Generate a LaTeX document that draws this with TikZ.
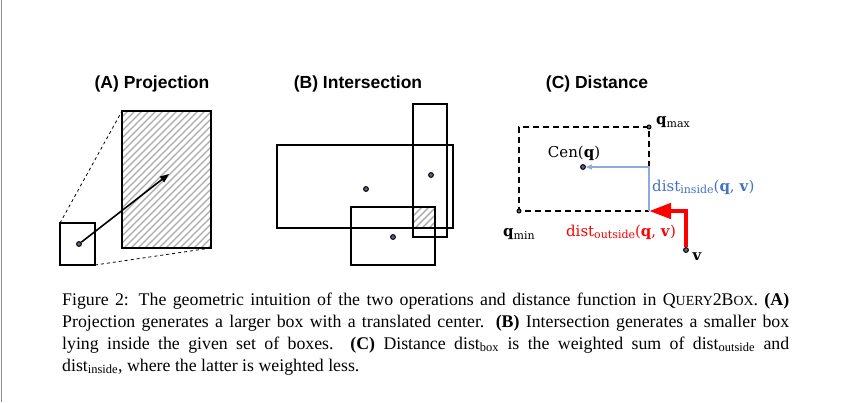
\documentclass[tikz,border=0pt]{standalone}
\usepackage{fontspec}
\setmainfont{Liberation Serif}
\newfontfamily\titlefont{Liberation Sans}
\newfontfamily\labfont{DejaVu Serif}
\usetikzlibrary{arrows.meta}
\definecolor{lblue}{RGB}{68,114,196}
\definecolor{llblue}{RGB}{143,170,220}
\definecolor{rred}{RGB}{255,0,0}
\definecolor{dotfill}{RGB}{90,100,120}
\newcommand{\fksc}[1]{{\fontsize{13.9}{22}\selectfont #1}}
\newcommand{\lsub}[1]{\raisebox{-0.35ex}{\fontsize{11}{11}\selectfont\mdseries #1}}
\begin{document}
\begin{tikzpicture}[x=1pt,y=-1pt,
 box/.style={draw=black,line width=1.6pt},
 dotc/.style={circle,draw=black,line width=1pt,fill=dotfill,inner sep=0pt,minimum size=4.8pt},
 title/.style={font=\titlefont\bfseries\fontsize{17.5}{20}\selectfont},
 hatch/.style={draw=black!33,line width=1.4pt},
 lab/.style={font=\labfont\fontsize{15}{17}\selectfont,inner sep=0pt},
 capline/.style={anchor=base west,inner sep=0pt,font=\fontsize{17.8}{22}\selectfont},
]
\useasboundingbox (0,0) rectangle (845,402);
\draw[black!45, line width=0.8pt] (1,0) -- (1,402);

% ---------- (A) Projection
\node[title] (tA) at (152,84) {(A) Projection};
\coordinate (sA1) at (60,223); \coordinate (sA2) at (95,265);
\coordinate (bA1) at (122,111); \coordinate (bA2) at (211,248);
\begin{scope}
\clip (bA1) rectangle (bA2);
\foreach \x in {-20,-13,...,215} \draw[hatch] (\x,252) -- ++(145,-145);
\end{scope}
\draw[box] (bA1) rectangle (bA2);
\draw[box] (sA1) rectangle (sA2);
\draw[dashed, line width=0.8pt] (sA1) -- (bA1);
\draw[dashed, line width=0.8pt] (sA2) -- (bA2);
\node[dotc] (cA) at (79,244) {};
\coordinate (tipA) at (169,174);
\draw[-{Triangle[length=9pt,width=7pt]}, line width=1.6pt] (cA) -- (tipA);

% ---------- (B) Intersection
\node[title] (tB) at (358,84) {(B) Intersection};
\begin{scope}
\clip (413,207) rectangle (435,228);
\foreach \x in {390,397,...,440} \draw[hatch] (\x,232) -- ++(30,-30);
\end{scope}
\draw[box] (277,145) rectangle (453,228);
\draw[box] (413,104) rectangle (447,237);
\draw[box] (351,207) rectangle (435,265);
\node[dotc] (cB1) at (366,189) {};
\node[dotc] (cB2) at (431,175) {};
\node[dotc] (cB3) at (393,237) {};

% ---------- (C) Distance
\node[title] (tC) at (597,84) {(C) Distance};
\coordinate (mid) at (649,167);
\coordinate (rb) at (649,211);
\coordinate (vc) at (686,211);
\draw[dashed, dash pattern=on 6pt off 4pt, line width=1.5pt] (mid) -- (649,127) -- (519,127) -- (519,211) -- (rb);
\node[dotc,minimum size=4pt] (qmax) at (649,127) {};
\node[dotc,minimum size=4pt] (qmin) at (519,211) {};
\node[dotc] (cen) at (583,167) {};
\node[dotc] (v) at (686,250) {};
\draw[llblue, line width=1.4pt, -{Triangle[length=6pt,width=5pt]}] (rb) -- (mid) -- (cen);
\draw[rred, line width=4.5pt, line join=miter, -{Triangle[length=22pt,width=15pt]}] (v.north) -- (vc) -- (rb);
\node[lab, anchor=west] (lqmax) at (656,122) {\bfseries q\lsub{max}};
\node[lab] (lqmin) at (519,234) {\bfseries q\lsub{min}};
\node[lab] (lcen) at (574,153) {Cen(\textbf{q})};
\node[lab, anchor=west, text=lblue] (lin) at (652,187) {dist\lsub{inside}(\textbf{q}, \textbf{v})};
\node[lab, text=rred] (lout) at (621,232) {dist\lsub{outside}(\textbf{q}, \textbf{v})};
\node[lab] (lv) at (697,257) {\bfseries v};

% ---------- caption
\node[capline] (cap1) at (62,305) {\makebox[727pt][s]{Figure 2: The geometric intuition of the two operations and distance function in Q\fksc{UERY}2B\fksc{OX}. \textbf{(A)}}};
\node[capline] (cap2) at (62,327) {\makebox[727pt][s]{Projection generates a larger box with a translated center. \textbf{(B)} Intersection generates a smaller box}};
\node[capline] (cap3) at (62,349) {\makebox[727pt][s]{lying inside the given set of boxes.\ \ \textbf{(C)} Distance $\mathrm{dist}_{\mathrm{box}}$ is the weighted sum of $\mathrm{dist}_{\mathrm{outside}}$ and}};
\node[capline] (cap4) at (62,371) {$\mathrm{dist}_{\mathrm{inside}}$, where the latter is weighted less.};
\end{tikzpicture}
\end{document}
